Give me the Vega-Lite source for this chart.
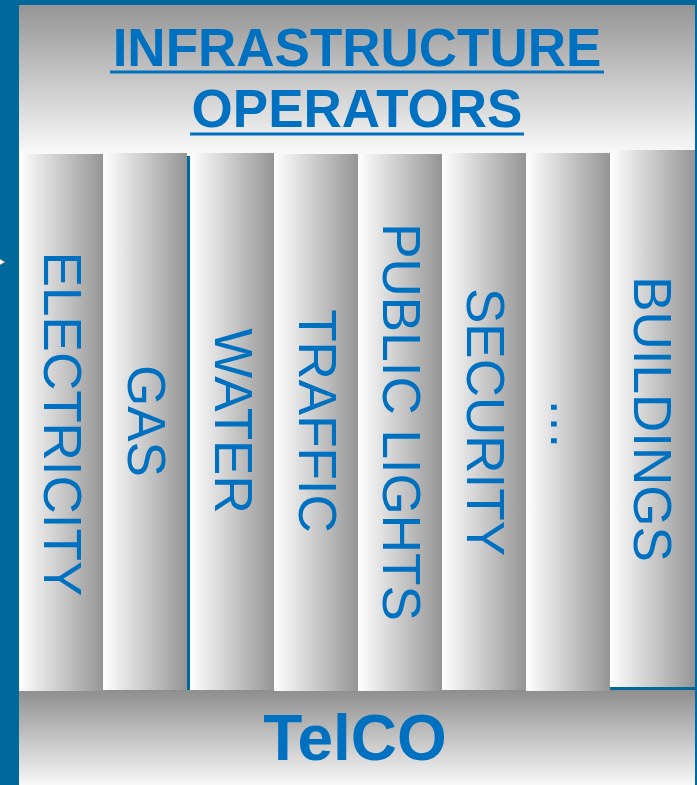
{
  "$schema": "https://vega.github.io/schema/vega-lite/v6.json",
  "width": 697,
  "height": 785,
  "padding": 0,
  "autosize": {"type": "none"},
  "background": "#00689a",
  "config": {"view": {"stroke": null}, "font": "Liberation Sans"},
  "datasets": {
    "header": [{"x0": 19, "x1": 695, "y0": 5, "y1": 156}],
    "telco": [{"x0": 19, "x1": 695, "y0": 690, "y1": 785}],
    "columns": [
      {"name": "ELECTRICITY", "x0": 19, "x1": 103, "y0": 154, "y1": 691},
      {"name": "GAS", "x0": 103, "x1": 187, "y0": 153, "y1": 690},
      {"name": "WATER", "x0": 190, "x1": 274, "y0": 153, "y1": 690},
      {"name": "TRAFFIC", "x0": 274, "x1": 358, "y0": 154, "y1": 691},
      {"name": "PUBLIC LIGHTS", "x0": 358, "x1": 442, "y0": 154, "y1": 691},
      {"name": "SECURITY", "x0": 442, "x1": 526, "y0": 153, "y1": 690},
      {"name": "…", "x0": 526, "x1": 610, "y0": 153, "y1": 691},
      {"name": "BUILDINGS", "x0": 610, "x1": 695, "y0": 150, "y1": 687}
    ],
    "labels": [
      {"label": "ELECTRICITY", "x": 60, "y": 424},
      {"label": "GAS", "x": 144, "y": 421},
      {"label": "WATER", "x": 231, "y": 421},
      {"label": "TRAFFIC", "x": 315, "y": 421},
      {"label": "PUBLIC LIGHTS", "x": 399, "y": 422},
      {"label": "SECURITY", "x": 483, "y": 422},
      {"label": "…", "x": 567, "y": 424},
      {"label": "BUILDINGS", "x": 650, "y": 419}
    ],
    "titles": [
      {"label": "INFRASTRUCTURE", "x": 357, "y": 50},
      {"label": "OPERATORS", "x": 357, "y": 111}
    ],
    "underlines": [
      {"x0": 110, "x1": 604, "y": 72},
      {"x0": 190, "x1": 524, "y": 134}
    ],
    "bottom": [{"label": "TelCO", "x": 355, "y": 741}],
    "arrow": [{"x": 1, "y": 262}]
  },
  "layer": [
    {
      "data": {"name": "header"},
      "mark": {"type": "rect", "fill": {"gradient": "linear", "x1": 0, "y1": 0, "x2": 0, "y2": 1, "stops": [{"offset": 0, "color": "#959595"}, {"offset": 1, "color": "#fbfbfb"}]}},
      "encoding": {
        "x": {"field": "x0", "type": "quantitative", "scale": {"domain": [0, 697]}, "axis": null},
        "x2": {"field": "x1"},
        "y": {"field": "y0", "type": "quantitative", "scale": {"domain": [0, 785], "reverse": true}, "axis": null},
        "y2": {"field": "y1"}
      }
    },
    {
      "data": {"name": "telco"},
      "mark": {"type": "rect", "fill": {"gradient": "linear", "x1": 0, "y1": 0, "x2": 0, "y2": 1, "stops": [{"offset": 0, "color": "#8e8e8e"}, {"offset": 1, "color": "#f8f8f8"}]}},
      "encoding": {
        "x": {"field": "x0", "type": "quantitative", "scale": {"domain": [0, 697]}, "axis": null},
        "x2": {"field": "x1"},
        "y": {"field": "y0", "type": "quantitative", "scale": {"domain": [0, 785], "reverse": true}, "axis": null},
        "y2": {"field": "y1"}
      }
    },
    {
      "data": {"name": "columns"},
      "mark": {"type": "rect", "fill": {"gradient": "linear", "x1": 0, "y1": 0, "x2": 1, "y2": 0, "stops": [{"offset": 0, "color": "#ffffff"}, {"offset": 1, "color": "#959595"}]}},
      "encoding": {
        "x": {"field": "x0", "type": "quantitative", "scale": {"domain": [0, 697]}, "axis": null},
        "x2": {"field": "x1"},
        "y": {"field": "y0", "type": "quantitative", "scale": {"domain": [0, 785], "reverse": true}, "axis": null},
        "y2": {"field": "y1"}
      }
    },
    {
      "data": {"name": "labels"},
      "mark": {"type": "text", "angle": 90, "align": "center", "baseline": "middle", "fontSize": 53, "color": "#0070c0"},
      "encoding": {
        "x": {"field": "x", "type": "quantitative", "scale": {"domain": [0, 697]}, "axis": null},
        "y": {"field": "y", "type": "quantitative", "scale": {"domain": [0, 785], "reverse": true}, "axis": null},
        "text": {"field": "label"}
      }
    },
    {
      "data": {"name": "titles"},
      "mark": {"type": "text", "align": "center", "baseline": "middle", "fontSize": 53, "fontWeight": "bold", "color": "#0070c0"},
      "encoding": {
        "x": {"field": "x", "type": "quantitative", "scale": {"domain": [0, 697]}, "axis": null},
        "y": {"field": "y", "type": "quantitative", "scale": {"domain": [0, 785], "reverse": true}, "axis": null},
        "text": {"field": "label"}
      }
    },
    {
      "data": {"name": "underlines"},
      "mark": {"type": "rule", "color": "#0070c0", "strokeWidth": 3},
      "encoding": {
        "x": {"field": "x0", "type": "quantitative", "scale": {"domain": [0, 697]}, "axis": null},
        "x2": {"field": "x1"},
        "y": {"field": "y", "type": "quantitative", "scale": {"domain": [0, 785], "reverse": true}, "axis": null}
      }
    },
    {
      "data": {"name": "bottom"},
      "mark": {"type": "text", "align": "center", "baseline": "middle", "fontSize": 64, "fontWeight": "bold", "color": "#0070c0"},
      "encoding": {
        "x": {"field": "x", "type": "quantitative", "scale": {"domain": [0, 697]}, "axis": null},
        "y": {"field": "y", "type": "quantitative", "scale": {"domain": [0, 785], "reverse": true}, "axis": null},
        "text": {"field": "label"}
      }
    },
    {
      "data": {"name": "arrow"},
      "mark": {"type": "point", "shape": "triangle-right", "filled": true, "fill": "#ffffff", "stroke": "#8a8a8a", "strokeWidth": 1, "size": 90, "opacity": 1},
      "encoding": {
        "x": {"field": "x", "type": "quantitative", "scale": {"domain": [0, 697]}, "axis": null},
        "y": {"field": "y", "type": "quantitative", "scale": {"domain": [0, 785], "reverse": true}, "axis": null}
      }
    }
  ]
}
